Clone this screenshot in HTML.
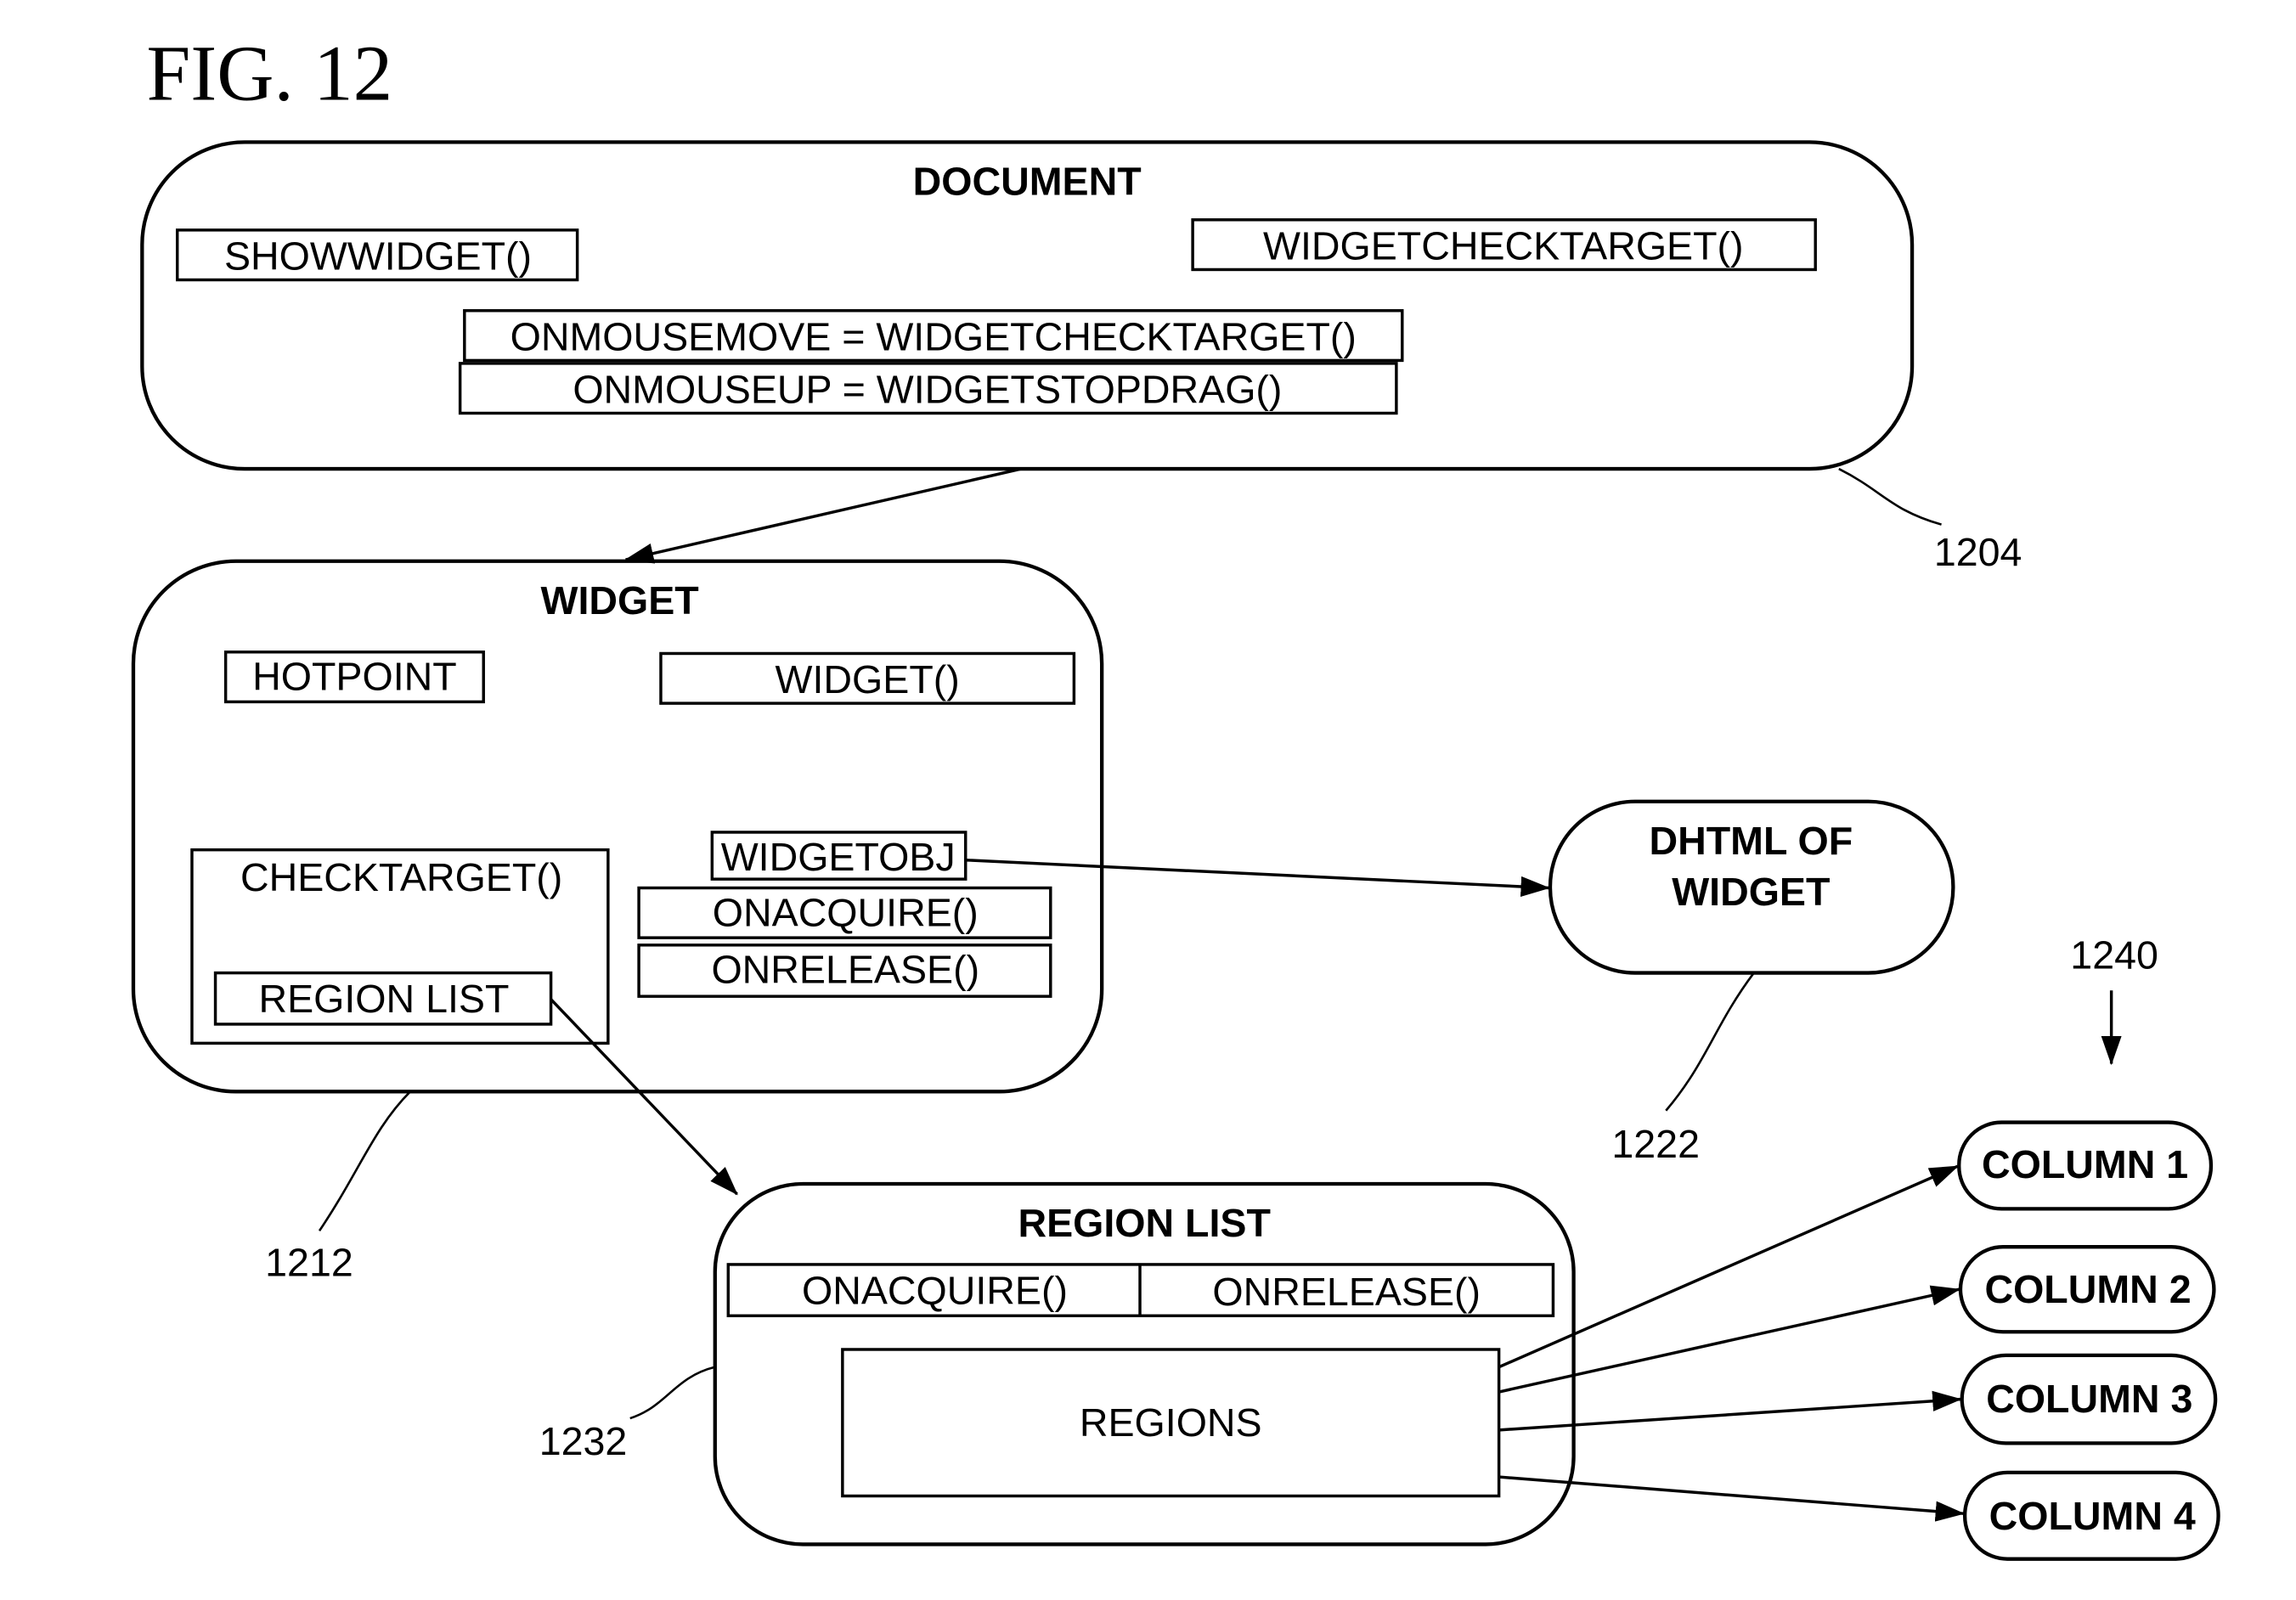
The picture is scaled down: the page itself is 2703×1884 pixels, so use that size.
<!DOCTYPE html>
<html><head><meta charset="utf-8"><style>
html,body{margin:0;padding:0;background:#fff;}
svg{display:block;}
text{font-family:"Liberation Sans",Arial,sans-serif;fill:#000;}
.b{font-weight:bold;}
</style></head><body>
<svg width="2703" height="1884" viewBox="0 0 1567 1092" preserveAspectRatio="none" xmlns="http://www.w3.org/2000/svg">
<defs><marker id="a" markerWidth="20" markerHeight="14" refX="19" refY="7" orient="auto" markerUnits="userSpaceOnUse"><path d="M0,0 L20,7 L0,14 Z" fill="#000"/></marker></defs>
<g fill="none" stroke="#000" stroke-width="2.5">
<rect x="97" y="97" width="1208" height="223" rx="70"/>
<rect x="91" y="383" width="661" height="362" rx="70"/>
<rect x="1058" y="547" width="275" height="117" rx="58"/>
<rect x="488" y="808" width="586" height="246" rx="60"/>
<rect x="1337" y="766" width="172" height="59" rx="29"/>
<rect x="1338" y="851" width="173" height="58" rx="29"/>
<rect x="1339" y="925" width="173" height="60" rx="30"/>
<rect x="1341" y="1005" width="173" height="59" rx="29"/>
</g>
<g fill="none" stroke="#000" stroke-width="2">
<rect x="121" y="157" width="273" height="34"/>
<rect x="814" y="150" width="425" height="34"/>
<rect x="317" y="212" width="640" height="34"/>
<rect x="314" y="248" width="639" height="34"/>
<rect x="154" y="445" width="176" height="34"/>
<rect x="451" y="446" width="282" height="34"/>
<rect x="131" y="580" width="284" height="132"/>
<rect x="147" y="664" width="229" height="35"/>
<rect x="486" y="568" width="173" height="32"/>
<rect x="436" y="606" width="281" height="34"/>
<rect x="436" y="645" width="281" height="35"/>
<rect x="497" y="863" width="563" height="35"/>
<line x1="778" y1="863" x2="778" y2="898"/>
<rect x="575" y="921" width="448" height="100"/>
</g>
<g fill="none" stroke="#000" stroke-width="2" marker-end="url(#a)">
<line x1="697" y1="320" x2="427" y2="382"/>
<line x1="659" y1="587" x2="1057" y2="606"/>
<line x1="376" y1="682" x2="503" y2="815"/>
<line x1="1023" y1="933" x2="1336" y2="796"/>
<line x1="1023" y1="950" x2="1337" y2="880"/>
<line x1="1023" y1="976" x2="1338" y2="955"/>
<line x1="1023" y1="1008" x2="1340" y2="1033"/>
<line x1="1441" y1="676" x2="1441" y2="726"/>
</g>
<g fill="none" stroke="#000" stroke-width="1.5">
<path d="M1255,320 C1285,335 1290,348 1325,358"/>
<path d="M1197,664 C1170,700 1165,725 1137,758"/>
<path d="M280,745 C255,770 245,800 218,840"/>
<path d="M488,933 C460,940 455,960 430,968"/>
</g>
<text x="100" y="68" style="font-family:'Liberation Serif',serif" font-size="54">FIG. 12</text>
<g font-size="27" text-anchor="middle">
<text class="b" x="701" y="133">DOCUMENT</text>
<text x="258" y="184">SHOWWIDGET()</text>
<text x="1026" y="177">WIDGETCHECKTARGET()</text>
<text x="637" y="239">ONMOUSEMOVE = WIDGETCHECKTARGET()</text>
<text x="633" y="275">ONMOUSEUP = WIDGETSTOPDRAG()</text>
<text class="b" x="423" y="419">WIDGET</text>
<text x="242" y="471">HOTPOINT</text>
<text x="592" y="473">WIDGET()</text>
<text x="274" y="608">CHECKTARGET()</text>
<text x="262" y="691">REGION LIST</text>
<text x="572" y="594">WIDGETOBJ</text>
<text x="577" y="632">ONACQUIRE()</text>
<text x="577" y="671">ONRELEASE()</text>
<text class="b" x="1195" y="583">DHTML OF</text>
<text class="b" x="1195" y="618">WIDGET</text>
<text class="b" x="781" y="844">REGION LIST</text>
<text x="638" y="890">ONACQUIRE()</text>
<text x="919" y="891">ONRELEASE()</text>
<text x="799" y="980">REGIONS</text>
<text class="b" x="1423" y="804">COLUMN 1</text>
<text class="b" x="1425" y="889">COLUMN 2</text>
<text class="b" x="1426" y="964">COLUMN 3</text>
<text class="b" x="1428" y="1044">COLUMN 4</text>
<text x="1350" y="386">1204</text>
<text x="1443" y="661">1240</text>
<text x="1130" y="790">1222</text>
<text x="211" y="871">1212</text>
<text x="398" y="993">1232</text>
</g>
</svg>
</body></html>
